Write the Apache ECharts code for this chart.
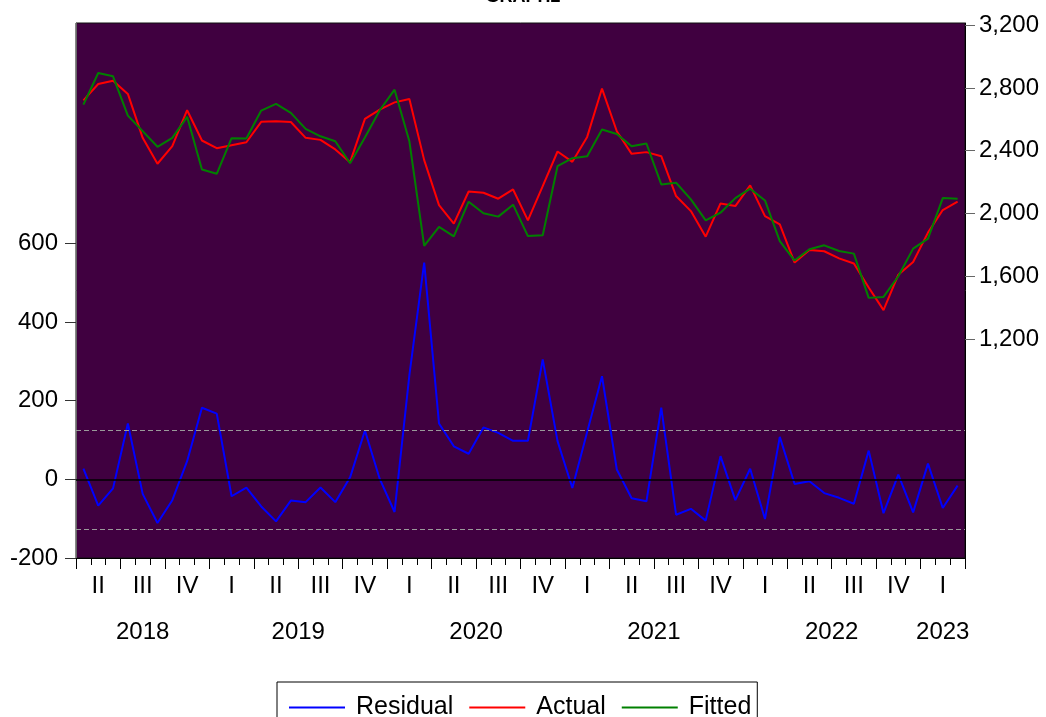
<!DOCTYPE html>
<html>
<head>
<meta charset="utf-8">
<script src="https://cdn.jsdelivr.net/npm/echarts@6/dist/echarts.min.js"></script>
<style>
  html, body { margin: 0; padding: 0; background: #fff; }
  #chart { width: 1046px; height: 717px; }
</style>
</head>
<body>
<div id="chart"></div>
<script>
// ---- Data ----
const categories = [
  '2018M04','2018M05','2018M06','2018M07','2018M08','2018M09','2018M10','2018M11','2018M12',
  '2019M01','2019M02','2019M03','2019M04','2019M05','2019M06','2019M07','2019M08','2019M09','2019M10','2019M11','2019M12',
  '2020M01','2020M02','2020M03','2020M04','2020M05','2020M06','2020M07','2020M08','2020M09','2020M10','2020M11','2020M12',
  '2021M01','2021M02','2021M03','2021M04','2021M05','2021M06','2021M07','2021M08','2021M09','2021M10','2021M11','2021M12',
  '2022M01','2022M02','2022M03','2022M04','2022M05','2022M06','2022M07','2022M08','2022M09','2022M10','2022M11','2022M12',
  '2023M01','2023M02','2023M03'
];
const actual = [2721, 2825, 2846, 2762, 2482, 2317, 2429, 2658, 2465, 2416, 2435, 2454, 2584, 2588, 2583, 2482, 2469, 2408, 2327, 2603, 2662, 2708, 2730, 2340, 2053, 1935, 2140, 2132, 2094, 2153, 1956, 2174, 2395, 2329, 2488, 2796, 2524, 2380, 2391, 2365, 2111, 2015, 1852, 2064, 2047, 2179, 1983, 1931, 1687, 1767, 1759, 1714, 1681, 1528, 1384, 1610, 1691, 1878, 2022, 2075];
const fitted = [2694, 2895, 2874, 2624, 2525, 2425, 2482, 2616, 2280, 2253, 2480, 2478, 2656, 2698, 2641, 2539, 2492, 2460, 2320, 2484, 2658, 2789, 2460, 1793, 1914, 1854, 2075, 2001, 1980, 2056, 1856, 1861, 2301, 2352, 2365, 2535, 2507, 2429, 2446, 2185, 2196, 2090, 1956, 2005, 2098, 2158, 2083, 1824, 1700, 1772, 1797, 1761, 1744, 1462, 1468, 1600, 1776, 1840, 2098, 2094];
const residual = [27, -67, -23, 142, -37, -111, -53, 46, 182, 167, -43, -21, -69, -107, -54, -58, -21, -58, 5, 124, 1, -83, 265, 551, 142, 84, 65, 132, 118, 98, 98, 305, 97, -22, 120, 262, 25, -48, -56, 182, -90, -75, -105, 59, -53, 27, -101, 108, -12, -5, -35, -47, -62, 73, -86, 12, -84, 40, -73, -16];
const seBands = [126, -126];
const quarterLabels = ['I', 'II', 'III', 'IV'];
const leftTicks = [-200, 0, 200, 400, 600];
const rightTicks = [1200, 1600, 2000, 2400, 2800, 3200];
const seriesNames = ['Residual', 'Actual', 'Fitted'];

// ---- helpers ----
const monthOf = c => parseInt(c.slice(5), 10);
const yearOf = c => c.slice(0, 4);
const fmt = v => String(v).replace(/\B(?=(\d{3})+(?!\d))/g, ',');

// year label positions: centre of each year's span on the month scale
const years = [];
const yearPos = [];
categories.forEach((c, i) => {
  const y = yearOf(c);
  if (years[years.length - 1] !== y) { years.push(y); yearPos.push([i, i]); }
  else yearPos[yearPos.length - 1][1] = i;
});
const yearCenters = yearPos.map(p => (p[0] + p[1] + 1) / 2);
// quarter boundaries (month index where a quarter starts) + end
const quarterBounds = [];
categories.forEach((c, i) => { if ((monthOf(c) - 1) % 3 === 0) quarterBounds.push(i); });
quarterBounds.push(categories.length);

const FONT = 'Liberation Sans, Arial, sans-serif';

const chart = echarts.init(document.getElementById('chart'), null, { renderer: 'canvas' });
chart.setOption({
  animation: false,
  backgroundColor: '#ffffff',
  title: {
    text: 'GRAPH2',
    left: 'center',
    top: -17,
    textStyle: { fontFamily: FONT, fontSize: 18, fontWeight: 'bold', color: '#000' }
  },
  legend: {
    data: seriesNames,
    left: 277,
    top: 682,
    orient: 'horizontal',
    icon: 'rect',
    itemWidth: 56,
    itemHeight: 2,
    itemGap: 16,
    borderColor: '#000',
    borderWidth: 1,
    padding: [13, 6, 24, 12],
    textStyle: { fontFamily: FONT, fontSize: 25, color: '#000', padding: [0, 0, 0, 6] }
  },
  grid: {
    left: 76, right: 81, top: 23, bottom: 159,
    show: true,
    backgroundColor: '#400040',
    borderColor: '#111',
    borderWidth: 1
  },
  xAxis: [
    {
      type: 'category',
      data: categories,
      boundaryGap: true,
      position: 'bottom',
      axisLine: { show: true, onZero: false, lineStyle: { color: '#000', width: 1 } },
      axisTick: { show: true, interval: 0, length: 7, lineStyle: { color: '#000' } },
      axisLabel: {
        interval: (idx, val) => monthOf(val) % 3 === 2,
        formatter: val => quarterLabels[Math.ceil(monthOf(val) / 3) - 1],
        fontFamily: FONT, fontSize: 24, color: '#000', margin: 16
      },
      splitLine: { show: false }
    },
    {
      type: 'value',
      min: 0,
      max: categories.length,
      position: 'bottom',
      axisLine: { show: false, onZero: false },
      axisTick: { show: true, customValues: quarterBounds, length: 11, lineStyle: { color: '#000' } },
      axisLabel: {
        customValues: yearCenters,
        formatter: v => years[yearCenters.indexOf(v)] || '',
        fontFamily: FONT, fontSize: 24, color: '#000', margin: 62
      },
      splitLine: { show: false }
    }
  ],
  yAxis: [
    {
      type: 'value',
      position: 'left',
      min: -200,
      max: 1160,
      axisLine: { show: true, onZero: false, lineStyle: { color: '#666' } },
      axisTick: { show: true, customValues: leftTicks, length: 11, lineStyle: { color: '#333' } },
      axisLabel: { customValues: leftTicks, formatter: v => fmt(v), fontFamily: FONT, fontSize: 24, color: '#000', margin: 18 },
      splitLine: { show: false }
    },
    {
      type: 'value',
      position: 'right',
      min: -196,
      max: 3214,
      axisLine: { show: true, onZero: false, lineStyle: { color: '#000' } },
      axisTick: { show: true, customValues: rightTicks, length: 10, lineStyle: { color: '#666' } },
      axisLabel: { customValues: rightTicks, formatter: v => fmt(v), fontFamily: FONT, fontSize: 24, color: '#000', margin: 14 },
      splitLine: { show: false }
    }
  ],
  series: [
    {
      name: seriesNames[0], type: 'line', xAxisIndex: 0, yAxisIndex: 0,
      data: residual, symbol: 'none', lineStyle: { color: '#0000ff', width: 2 }, itemStyle: { color: '#0000ff' },
      markLine: {
        silent: true, symbol: ['none', 'none'], label: { show: false },
        data: [
          { yAxis: 0, lineStyle: { color: '#000', type: 'solid', width: 1.5 } },
          { yAxis: seBands[0], lineStyle: { color: '#9a9a9a', type: [5, 3], width: 1 } },
          { yAxis: seBands[1], lineStyle: { color: '#9a9a9a', type: [5, 3], width: 1 } }
        ]
      },
      z: 3
    },
    {
      name: seriesNames[1], type: 'line', xAxisIndex: 0, yAxisIndex: 1,
      data: actual, symbol: 'none', lineStyle: { color: '#ff0000', width: 2 }, itemStyle: { color: '#ff0000' }, z: 4
    },
    {
      name: seriesNames[2], type: 'line', xAxisIndex: 0, yAxisIndex: 1,
      data: fitted, symbol: 'none', lineStyle: { color: '#008000', width: 2 }, itemStyle: { color: '#008000' }, z: 5
    }
  ]
});
</script>
</body>
</html>
